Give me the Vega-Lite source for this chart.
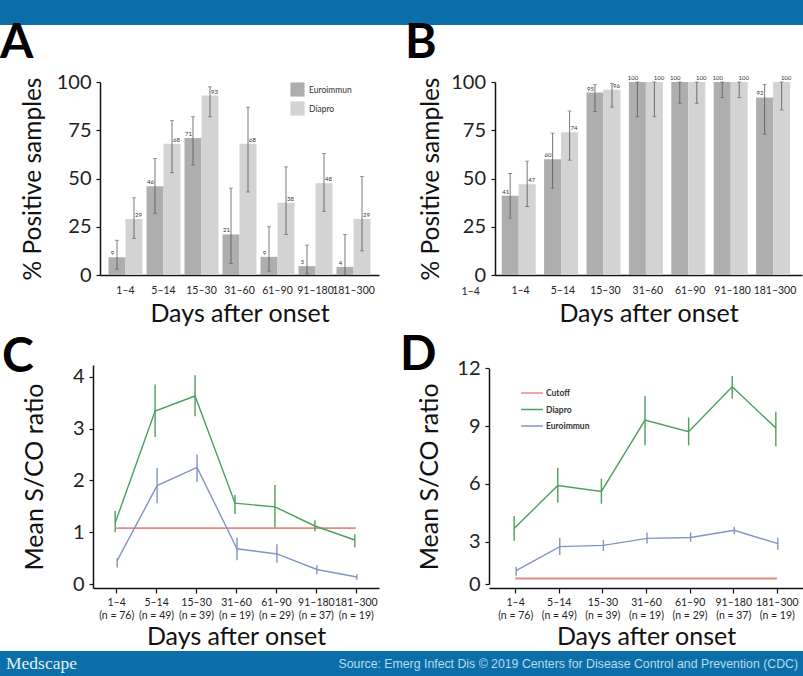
{
"$schema":"https://vega.github.io/schema/vega-lite/v6.json",
"padding":0,"background":"white","bounds":"flush","spacing":0,
"resolve":{"scale":{"color":"independent"},"legend":{"color":"independent"}},
"config":{"font":"Lato","view":{"stroke":null},"concat":{"spacing":0},
"axis":{"grid":false,"domainColor":"#111","domainWidth":1.5,"tickColor":"#111","tickWidth":1.2,"labelColor":"#222","titleColor":"#111","titleFont":"Lato","labelFont":"Lato","titleFontWeight":"normal"},
"title":{"font":"Lato","fontWeight":"bold","fontSize":48,"anchor":"start","frame":"group","color":"#000"}},
"datasets":{
"pctA":[
{"days":"1–4","series":"Euroimmun","pct":9.2,"lo":3,"hi":18,"label":"9"},
{"days":"5–14","series":"Euroimmun","pct":46,"lo":32,"hi":60.4,"label":"46"},
{"days":"15–30","series":"Euroimmun","pct":71,"lo":57,"hi":82,"label":"71"},
{"days":"31–60","series":"Euroimmun","pct":21,"lo":6,"hi":45,"label":"21"},
{"days":"61–90","series":"Euroimmun","pct":9.4,"lo":2,"hi":25,"label":"9"},
{"days":"91–180","series":"Euroimmun","pct":4.6,"lo":0.7,"hi":15.5,"label":"5"},
{"days":"181–300","series":"Euroimmun","pct":4.2,"lo":0,"hi":21,"label":"4"},
{"days":"1–4","series":"Diapro","pct":29,"lo":19,"hi":40,"label":"29"},
{"days":"5–14","series":"Diapro","pct":68,"lo":53,"hi":80,"label":"68"},
{"days":"15–30","series":"Diapro","pct":93,"lo":82,"hi":97.5,"label":"93"},
{"days":"31–60","series":"Diapro","pct":68,"lo":43,"hi":87,"label":"68"},
{"days":"61–90","series":"Diapro","pct":37.5,"lo":21,"hi":56,"label":"38"},
{"days":"91–180","series":"Diapro","pct":47.5,"lo":33,"hi":63,"label":"48"},
{"days":"181–300","series":"Diapro","pct":29,"lo":12.5,"hi":51,"label":"29"}],
"pctB":[
{"days":"1–4","series":"Euroimmun","pct":41,"lo":29.5,"hi":52.6,"label":"41"},
{"days":"5–14","series":"Euroimmun","pct":60,"lo":45,"hi":73.5,"label":"60"},
{"days":"15–30","series":"Euroimmun","pct":94.5,"lo":84.7,"hi":98.6,"label":"95"},
{"days":"31–60","series":"Euroimmun","pct":100,"lo":82,"hi":100,"label":"100"},
{"days":"61–90","series":"Euroimmun","pct":100,"lo":89,"hi":100,"label":"100"},
{"days":"91–180","series":"Euroimmun","pct":100,"lo":92,"hi":100,"label":"100"},
{"days":"181–300","series":"Euroimmun","pct":92,"lo":73,"hi":98.8,"label":"92"},
{"days":"1–4","series":"Diapro","pct":47,"lo":35.5,"hi":59,"label":"47"},
{"days":"5–14","series":"Diapro","pct":74,"lo":59.5,"hi":85,"label":"74"},
{"days":"15–30","series":"Diapro","pct":96,"lo":87,"hi":99.3,"label":"96"},
{"days":"31–60","series":"Diapro","pct":100,"lo":82,"hi":100,"label":"100"},
{"days":"61–90","series":"Diapro","pct":100,"lo":89,"hi":100,"label":"100"},
{"days":"91–180","series":"Diapro","pct":100,"lo":92,"hi":100,"label":"100"},
{"days":"181–300","series":"Diapro","pct":100,"lo":85.5,"hi":100,"label":"100"}],
"ratioC":[
{"days":"1–4|(n = 76)","series":"Diapro","mean":1.18,"lo":1.0,"hi":1.41},
{"days":"5–14|(n = 49)","series":"Diapro","mean":3.34,"lo":2.84,"hi":3.85},
{"days":"15–30|(n = 39)","series":"Diapro","mean":3.63,"lo":3.24,"hi":4.03},
{"days":"31–60|(n = 19)","series":"Diapro","mean":1.56,"lo":1.35,"hi":1.72},
{"days":"61–90|(n = 29)","series":"Diapro","mean":1.49,"lo":1.09,"hi":1.91},
{"days":"91–180|(n = 37)","series":"Diapro","mean":1.12,"lo":1.02,"hi":1.23},
{"days":"181–300|(n = 19)","series":"Diapro","mean":0.85,"lo":0.71,"hi":0.96},
{"days":"1–4|(n = 76)","series":"Euroimmun","mean":0.45,"lo":0.32,"hi":0.5},
{"days":"5–14|(n = 49)","series":"Euroimmun","mean":1.9,"lo":1.56,"hi":2.24},
{"days":"15–30|(n = 39)","series":"Euroimmun","mean":2.25,"lo":1.97,"hi":2.5},
{"days":"31–60|(n = 19)","series":"Euroimmun","mean":0.68,"lo":0.46,"hi":0.9},
{"days":"61–90|(n = 29)","series":"Euroimmun","mean":0.58,"lo":0.41,"hi":0.77},
{"days":"91–180|(n = 37)","series":"Euroimmun","mean":0.28,"lo":0.19,"hi":0.36},
{"days":"181–300|(n = 19)","series":"Euroimmun","mean":0.135,"lo":0.08,"hi":0.19},
{"days":"1–4|(n = 76)","series":"Cutoff","mean":1.08},
{"days":"181–300|(n = 19)","series":"Cutoff","mean":1.08}],
"ratioD":[
{"days":"1–4|(n = 76)","series":"Diapro","mean":3.69,"lo":3.05,"hi":4.33},
{"days":"5–14|(n = 49)","series":"Diapro","mean":5.92,"lo":5.02,"hi":6.84},
{"days":"15–30|(n = 39)","series":"Diapro","mean":5.61,"lo":4.97,"hi":6.27},
{"days":"31–60|(n = 19)","series":"Diapro","mean":9.31,"lo":8.01,"hi":10.56},
{"days":"61–90|(n = 29)","series":"Diapro","mean":8.71,"lo":8.0,"hi":9.45},
{"days":"91–180|(n = 37)","series":"Diapro","mean":11.04,"lo":10.42,"hi":11.6},
{"days":"181–300|(n = 19)","series":"Diapro","mean":8.9,"lo":7.96,"hi":9.74},
{"days":"1–4|(n = 76)","series":"Euroimmun","mean":0.96,"lo":0.61,"hi":1.24},
{"days":"5–14|(n = 49)","series":"Euroimmun","mean":2.65,"lo":2.07,"hi":3.19},
{"days":"15–30|(n = 39)","series":"Euroimmun","mean":2.74,"lo":2.35,"hi":3.09},
{"days":"31–60|(n = 19)","series":"Euroimmun","mean":3.17,"lo":2.88,"hi":3.48},
{"days":"61–90|(n = 29)","series":"Euroimmun","mean":3.22,"lo":3.0,"hi":3.48},
{"days":"91–180|(n = 37)","series":"Euroimmun","mean":3.59,"lo":3.4,"hi":3.78},
{"days":"181–300|(n = 19)","series":"Euroimmun","mean":2.86,"lo":2.41,"hi":3.21},
{"days":"1–4|(n = 76)","series":"Cutoff","mean":0.4},
{"days":"181–300|(n = 19)","series":"Cutoff","mean":0.4}]
},
"vconcat":[
{"width":803,"height":25,"data":{"values":[{"band":"top"}]},"mark":{"type":"rect","color":"#0b6ea8"},"encoding":{}},
{"width":803,"height":57,"data":{"values":[{"s":""}]},"mark":"text","encoding":{"text":{"field":"s"}}},
{"bounds":"flush","spacing":0,"resolve":{"scale":{"color":"independent"},"legend":{"color":"independent"}},"hconcat":[
{"width":100,"height":193,"data":{"values":[{"s":""}]},"mark":"text","encoding":{"text":{"field":"s"}}},
{"width":279,"height":193,"title":{"text":"A","dx":-100,"offset":4},
"data":{"name":"pctA"},
"encoding":{"x":{"field":"days","type":"nominal","scale":{"domain":["1–4","5–14","15–30","31–60","61–90","91–180","181–300"],"paddingInner":0.105,"paddingOuter":0.2235},
"axis":{"title":"Days after onset","labelAngle":0,"labelFontSize":10.5,"ticks":false,"labelPadding":10,"titleFontSize":25,"titlePadding":6,"labelOverlap":false}},
"xOffset":{"field":"series","sort":["Euroimmun","Diapro"]},
"y":{"type":"quantitative"}},
"layer":[
{"mark":{"type":"bar"},"encoding":{"y":{"field":"pct","type":"quantitative","scale":{"domain":[0,100]},"axis":{"values":[0,25,50,75,100],"title":"% Positive samples","labelFontSize":20,"titleFontSize":24.5,"tickSize":4,"labelPadding":5,"titlePadding":11}},
"color":{"field":"series","type":"nominal","scale":{"domain":["Euroimmun","Diapro"],"range":["#aeaeae","#d3d3d3"]},"legend":{"title":null,"orient":"none","legendX":190,"legendY":0,"symbolType":"square","symbolSize":200,"labelFontSize":8.5,"labelColor":"#333","rowPadding":4,"symbolStrokeWidth":0}}}},
{"mark":{"type":"rule","color":"#555","strokeWidth":0.8},"encoding":{"y":{"field":"lo","type":"quantitative"},"y2":{"field":"hi"}}},
{"mark":{"type":"tick","color":"#555","size":4,"thickness":0.8},"encoding":{"y":{"field":"lo","type":"quantitative"}}},
{"mark":{"type":"tick","color":"#555","size":4,"thickness":0.8},"encoding":{"y":{"field":"hi","type":"quantitative"}}},
{"transform":[{"filter":"datum.series==='Euroimmun'"}],"mark":{"type":"text","fontSize":6,"color":"#333","dx":-4.5,"dy":-1,"baseline":"bottom"},"encoding":{"y":{"field":"pct","type":"quantitative"},"text":{"field":"label"}}},
{"transform":[{"filter":"datum.series==='Diapro'"}],"mark":{"type":"text","fontSize":6,"color":"#333","dx":4.5,"dy":-1,"baseline":"bottom"},"encoding":{"y":{"field":"pct","type":"quantitative"},"text":{"field":"label"}}}
]},
{"width":116,"height":193,"data":{"values":[{"s":""}]},"mark":"text","encoding":{"text":{"field":"s"}}},
{"width":307,"height":193,"title":{"text":"B","dx":-90,"offset":4},
"data":{"name":"pctB"},
"encoding":{"x":{"field":"days","type":"nominal","scale":{"domain":["1–4","5–14","15–30","31–60","61–90","91–180","181–300"],"paddingInner":0.11,"paddingOuter":0.175,"align":0.45},
"axis":{"title":"Days after onset","labelAngle":0,"labelFontSize":10.5,"ticks":false,"labelPadding":10,"titleFontSize":25,"titlePadding":6,"labelOverlap":false}},
"xOffset":{"field":"series","sort":["Euroimmun","Diapro"]},
"y":{"type":"quantitative"}},
"layer":[
{"mark":{"type":"bar"},"encoding":{"y":{"field":"pct","type":"quantitative","scale":{"domain":[0,100]},"axis":{"values":[0,25,50,75,100],"title":"% Positive samples","labelFontSize":20,"titleFontSize":24.5,"tickSize":4,"labelPadding":5.5,"titlePadding":7}},
"color":{"field":"series","type":"nominal","scale":{"domain":["Euroimmun","Diapro"],"range":["#aeaeae","#d3d3d3"]},"legend":null}}},
{"mark":{"type":"rule","color":"#555","strokeWidth":0.8},"encoding":{"y":{"field":"lo","type":"quantitative"},"y2":{"field":"hi"}}},
{"mark":{"type":"tick","color":"#555","size":4,"thickness":0.8},"encoding":{"y":{"field":"lo","type":"quantitative"}}},
{"mark":{"type":"tick","color":"#555","size":4,"thickness":0.8},"encoding":{"y":{"field":"hi","type":"quantitative"}}},
{"transform":[{"filter":"datum.series==='Euroimmun'"}],"mark":{"type":"text","fontSize":6,"color":"#333","dx":-4.5,"dy":-1,"baseline":"bottom"},"encoding":{"y":{"field":"pct","type":"quantitative"},"text":{"field":"label"}}},
{"transform":[{"filter":"datum.series==='Diapro'"}],"mark":{"type":"text","fontSize":6,"color":"#333","dx":4.5,"dy":-1,"baseline":"bottom"},"encoding":{"y":{"field":"pct","type":"quantitative"},"text":{"field":"label"}}},
{"data":{"values":[{"days":"1–4","note":"1–4"}]},"mark":{"type":"text","fontSize":10.5,"color":"#222","dx":-31,"dy":16.5},"encoding":{"xOffset":{"value":0},"y":{"datum":0,"type":"quantitative"},"text":{"field":"note"}}}
]}
]},
{"width":803,"height":283,"data":{"values":[{"s":""}]},"mark":"text","encoding":{"text":{"field":"s"}}},
{"bounds":"flush","spacing":0,"resolve":{"scale":{"color":"independent"},"legend":{"color":"independent"}},"hconcat":[
{"width":93,"height":223,"data":{"values":[{"s":""}]},"mark":"text","encoding":{"text":{"field":"s"}}},
{"width":286,"height":223,"title":{"text":"C","dx":-91,"offset":-17},
"data":{"name":"ratioC"},
"encoding":{"x":{"field":"days","type":"nominal","scale":{"type":"point","padding":0.58,"domain":["1–4|(n = 76)","5–14|(n = 49)","15–30|(n = 39)","31–60|(n = 19)","61–90|(n = 29)","91–180|(n = 37)","181–300|(n = 19)"]},
"axis":{"title":"Days after onset","labelAngle":0,"labelFontSize":10.5,"labelLineHeight":13.5,"labelExpr":"split(datum.value,'|')","tickSize":5,"labelPadding":4,"titleFontSize":25,"titlePadding":3,"labelOverlap":false}},
"y":{"type":"quantitative"},
"color":{"field":"series","type":"nominal","scale":{"domain":["Cutoff","Diapro","Euroimmun"],"range":["#e58a80","#4c9f5c","#7f95c4"]},"legend":null}},
"layer":[
{"transform":[{"filter":"datum.series==='Cutoff'"}],"mark":{"type":"line","strokeWidth":1.8},"encoding":{"y":{"field":"mean","type":"quantitative","scale":{"domain":[-0.077,4.228],"nice":false,"zero":false},"axis":{"values":[0,1,2,3,4],"format":"d","title":"Mean S/CO ratio","labelFontSize":20,"titleFontSize":25,"tickSize":4,"labelPadding":5,"titlePadding":25}}}},
{"transform":[{"filter":"datum.series==='Diapro'"}],"mark":{"type":"line","strokeWidth":1.4,"xOffset":-1},"encoding":{"y":{"field":"mean","type":"quantitative"}}},
{"transform":[{"filter":"datum.series==='Euroimmun'"}],"mark":{"type":"line","strokeWidth":1.4,"xOffset":1},"encoding":{"y":{"field":"mean","type":"quantitative"}}},
{"transform":[{"filter":"datum.series==='Diapro'"}],"mark":{"type":"rule","strokeWidth":1.4,"xOffset":-1},"encoding":{"y":{"field":"lo","type":"quantitative"},"y2":{"field":"hi"}}},
{"transform":[{"filter":"datum.series==='Euroimmun'"}],"mark":{"type":"rule","strokeWidth":1.4,"xOffset":1},"encoding":{"y":{"field":"lo","type":"quantitative"},"y2":{"field":"hi"}}}
]},
{"width":110,"height":223,"data":{"values":[{"s":""}]},"mark":"text","encoding":{"text":{"field":"s"}}},
{"width":314,"height":223,"title":{"text":"D","dx":-89,"offset":-22},
"data":{"name":"ratioD"},
"encoding":{"x":{"field":"days","type":"nominal","scale":{"type":"point","padding":0.6,"domain":["1–4|(n = 76)","5–14|(n = 49)","15–30|(n = 39)","31–60|(n = 19)","61–90|(n = 29)","91–180|(n = 37)","181–300|(n = 19)"]},
"axis":{"title":"Days after onset","labelAngle":0,"labelFontSize":10.5,"labelLineHeight":13.5,"labelExpr":"split(datum.value,'|')","tickSize":5,"labelPadding":4,"titleFontSize":25,"titlePadding":3,"labelOverlap":false}},
"y":{"type":"quantitative"},
"color":{"field":"series","type":"nominal","scale":{"domain":["Cutoff","Diapro","Euroimmun"],"range":["#e58a80","#4c9f5c","#7f95c4"]},"legend":{"title":null,"orient":"none","legendX":31,"legendY":22,"symbolType":"stroke","symbolSize":480,"symbolStrokeWidth":1.4,"labelFontSize":8.5,"labelColor":"#333","labelFontWeight":"bold","labelOffset":2,"clipHeight":12,"rowPadding":4.5}}},
"layer":[
{"transform":[{"filter":"datum.series==='Cutoff'"}],"mark":{"type":"line","strokeWidth":2},"encoding":{"y":{"field":"mean","type":"quantitative","scale":{"domain":[0,3,12],"range":[219.3,176.7,3.3],"zero":false,"nice":false},"axis":{"values":[0,3,6,9,12],"format":"d","title":"Mean S/CO ratio","labelFontSize":20,"titleFontSize":25,"tickSize":4,"labelPadding":5,"titlePadding":14}}}},
{"transform":[{"filter":"datum.series==='Diapro'"}],"mark":{"type":"line","strokeWidth":1.4,"xOffset":-1},"encoding":{"y":{"field":"mean","type":"quantitative"}}},
{"transform":[{"filter":"datum.series==='Euroimmun'"}],"mark":{"type":"line","strokeWidth":1.4,"xOffset":1},"encoding":{"y":{"field":"mean","type":"quantitative"}}},
{"transform":[{"filter":"datum.series==='Diapro'"}],"mark":{"type":"rule","strokeWidth":1.4,"xOffset":-1},"encoding":{"y":{"field":"lo","type":"quantitative"},"y2":{"field":"hi"}}},
{"transform":[{"filter":"datum.series==='Euroimmun'"}],"mark":{"type":"rule","strokeWidth":1.4,"xOffset":1},"encoding":{"y":{"field":"lo","type":"quantitative"},"y2":{"field":"hi"}}}
]}
]},
{"width":803,"height":286,"data":{"values":[{"s":""}]},"mark":"text","encoding":{"text":{"field":"s"}}},
{"width":803,"height":25,"view":{"fill":"#0b6ea8"},
"data":{"values":[{"t":"Medscape","pos":6,"side":"left"},{"t":"Source: Emerg Infect Dis © 2019 Centers for Disease Control and Prevention (CDC)","pos":798,"side":"right"}]},
"encoding":{"x":{"field":"pos","type":"quantitative","scale":{"domain":[0,803]},"axis":null},"text":{"field":"t"}},
"layer":[
{"transform":[{"filter":"datum.side==='left'"}],"mark":{"type":"text","align":"left","font":"Liberation Serif","fontSize":17.5,"color":"#e4f0f7"}},
{"transform":[{"filter":"datum.side==='right'"}],"mark":{"type":"text","align":"right","font":"Liberation Sans","fontSize":12.3,"color":"#b9dcf0"}}
]}
]
}
